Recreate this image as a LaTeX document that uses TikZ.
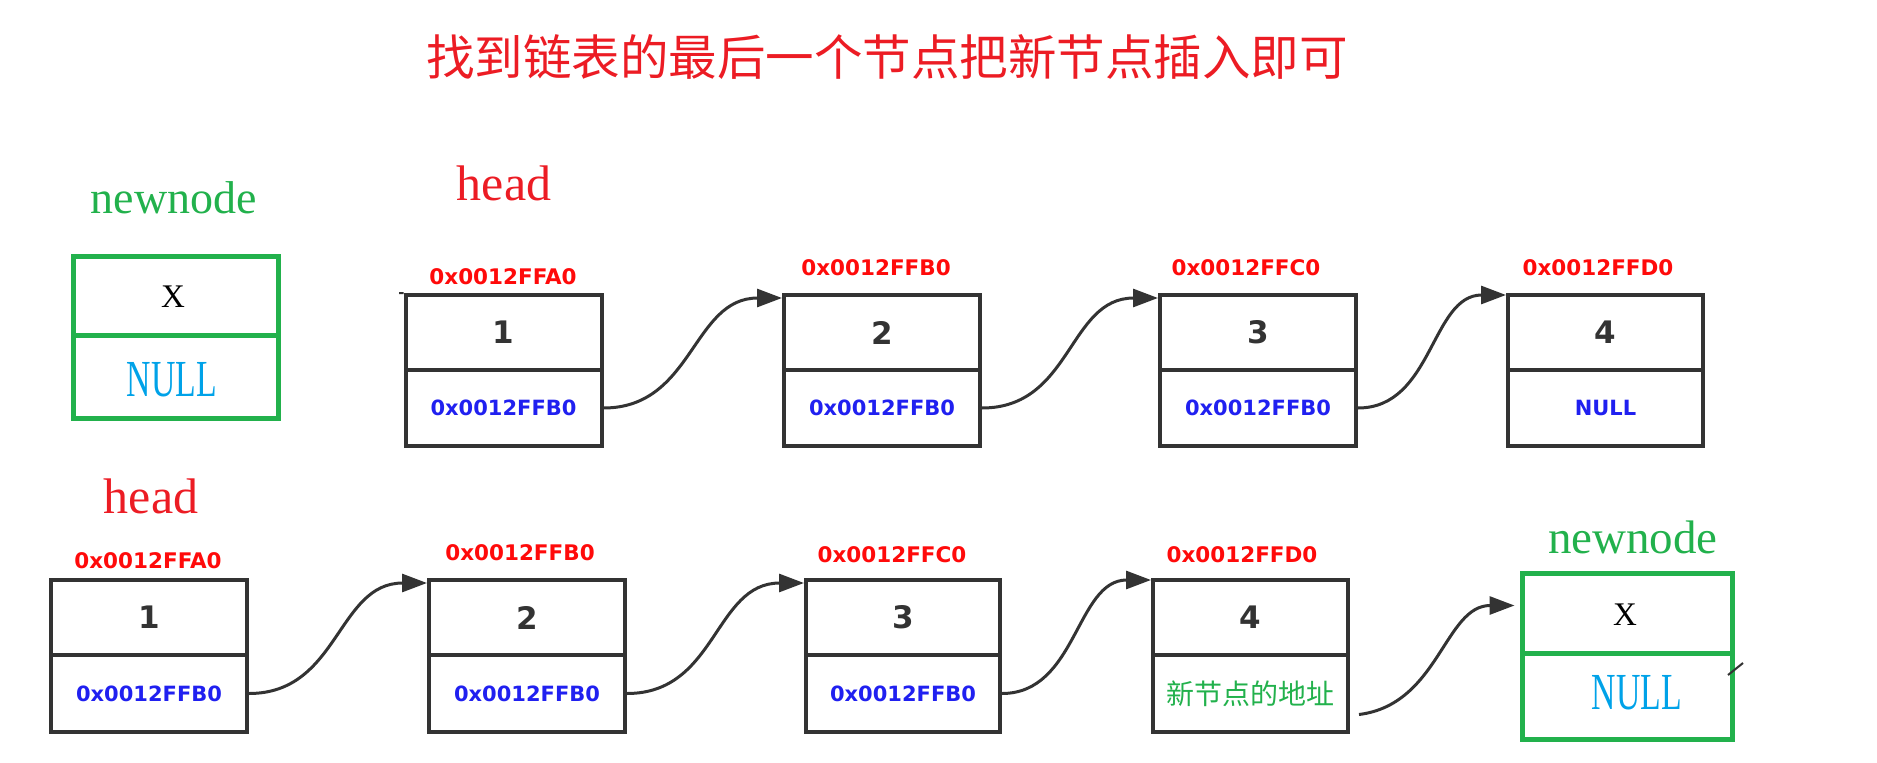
\documentclass[tikz,border=0pt]{standalone}
\usepackage{fontspec}
\setmainfont{Liberation Serif}
\newfontfamily\lblfont{DejaVu Sans}
\newfontfamily\cjk{Noto Sans CJK SC}
\usetikzlibrary{arrows.meta}
\definecolor{tred}{HTML}{EC1C24}
\definecolor{lred}{HTML}{FF0A0A}
\definecolor{lblue}{HTML}{2020F0}
\definecolor{boxgray}{HTML}{333333}
\definecolor{pgreen}{HTML}{22B14C}
\definecolor{ncyan}{HTML}{00A2E8}
\tikzset{
  cell/.style={draw=boxgray, line width=4bp, minimum width=196bp, inner sep=0pt, text=boxgray},
  topcell/.style={cell, minimum height=75bp, font=\lblfont\bfseries\fontsize{31bp}{36bp}\selectfont},
  botcell/.style={cell, minimum height=76bp, text=lblue, font=\lblfont\bfseries\fontsize{21bp}{25bp}\selectfont},
  gcell/.style={draw=pgreen, line width=5bp, inner sep=0pt},
  addr/.style={text=lred, inner sep=0pt, font=\lblfont\bfseries\fontsize{21.5bp}{25bp}\selectfont},
  link/.style={draw=boxgray, line width=3bp, -{Triangle[length=25bp,width=18bp]}},
  bigserif/.style={inner sep=0pt, anchor=base},
  xval/.style={inner sep=0pt, font=\fontsize{33bp}{38bp}\selectfont},
  nullval/.style={inner sep=0pt, text=ncyan, font=\fontsize{52bp}{58bp}\selectfont},
}
\begin{document}
\begin{tikzpicture}[x=1bp,y=-1bp]
\useasboundingbox (0,0) rectangle (1877,763);
% title
\node[inner sep=0pt, text=tred, font=\cjk\fontsize{48.5bp}{54bp}\selectfont] (title) at (887,57) {找到链表的最后一个节点把新节点插入即可};

% ---------- top row ----------
\node[bigserif, text=pgreen, font=\fontsize{46bp}{52bp}\selectfont] (nn1) at (174,213) {newnode};
\node[bigserif, text=tred, font=\fontsize{50bp}{56bp}\selectfont] (hd1) at (504,200) {head};

\node[gcell, minimum width=204bp, minimum height=79bp] (g1t) at (176,295.5) {};
\node[gcell, minimum width=204bp, minimum height=83bp] (g1b) at (176,376.5) {};
\node[xval] (g1x) at (173,297) {X};
\node[nullval] (g1n) at (172,380) {\scalebox{0.65}[1]{NULL}};

\node[topcell] (a1t) at (503.5,332.5) {1};
\node[botcell] (a1b) at (503.5,408) {0x0012FFB0};
\node[topcell] (a2t) at (882,332.5) {2};
\node[botcell] (a2b) at (882,408) {0x0012FFB0};
\node[topcell] (a3t) at (1258,332.5) {3};
\node[botcell] (a3b) at (1258,408) {0x0012FFB0};
\node[topcell, minimum width=195bp] (a4t) at (1605.5,332.5) {4};
\node[botcell, minimum width=195bp] (a4b) at (1605.5,408) {NULL};

\node[addr] (la1) at (503,277) {0x0012FFA0};
\node[addr] (la2) at (876,268) {0x0012FFB0};
\node[addr] (la3) at (1246,268) {0x0012FFC0};
\node[addr] (la4) at (1598,268) {0x0012FFD0};

\draw[link] (a1b.east) .. controls +(90,0) and +(-90,0) .. ([yshift=-5bp]a2t.north west);
\draw[link] (a2b.east) .. controls +(90,0) and +(-90,0) .. ([yshift=-5bp]a3t.north west);
\draw[link] (a3b.east) .. controls +(75,0) and +(-75,0) .. ([yshift=-2bp]a4t.north west);

\coordinate (tk1) at (399,293);
\draw[boxgray, line width=2bp] (tk1) -- (a1t.north west);

% ---------- bottom row ----------
\node[bigserif, text=tred, font=\fontsize{50bp}{56bp}\selectfont] (hd2) at (151,513) {head};
\node[bigserif, text=pgreen, font=\fontsize{47bp}{52bp}\selectfont] (nn2) at (1633,553) {newnode};

\node[topcell] (b1t) at (149,617.5) {1};
\node[botcell, minimum height=77bp] (b1b) at (149,693.5) {0x0012FFB0};
\node[topcell] (b2t) at (527,617.5) {2};
\node[botcell, minimum height=77bp] (b2b) at (527,693.5) {0x0012FFB0};
\node[topcell, minimum width=194bp] (b3t) at (903,617.5) {3};
\node[botcell, minimum height=77bp, minimum width=194bp] (b3b) at (903,693.5) {0x0012FFB0};
\node[topcell, minimum width=195bp] (b4t) at (1250.5,617.5) {4};
\node[botcell, minimum height=77bp, minimum width=195bp, text=pgreen, font=\cjk\fontsize{28bp}{32bp}\selectfont] (b4b) at (1250.5,693.5) {\raisebox{-3bp}{新节点的地址}};

\node[addr] (lb1) at (148,561) {0x0012FFA0};
\node[addr] (lb2) at (520,553) {0x0012FFB0};
\node[addr] (lb3) at (892,555) {0x0012FFC0};
\node[addr] (lb4) at (1242,555) {0x0012FFD0};

\node[gcell, minimum width=210bp, minimum height=80bp] (g2t) at (1627,613) {};
\node[gcell, minimum width=210bp, minimum height=86bp] (g2b) at (1627,696) {};
\node[xval] (g2x) at (1625,615) {X};
\node[nullval] (g2n) at (1637,693) {\scalebox{0.65}[1]{NULL}};

\draw[link] (b1b.east) .. controls +(90,0) and +(-90,0) .. ([yshift=-5bp]b2t.north west);
\draw[link] (b2b.east) .. controls +(90,0) and +(-90,0) .. ([yshift=-5bp]b3t.north west);
\draw[link] (b3b.east) .. controls +(75,0) and +(-75,0) .. ([yshift=-2bp]b4t.north west);
\draw[link] ([xshift=9bp,yshift=-21bp]b4b.east) .. controls +(80,-10) and +(-70,0) .. ([xshift=-5bp,yshift=-35bp]g2t.north west);

\coordinate (st1) at (1728,675);
\coordinate (st2) at (1743,663);
\draw[boxgray, line width=2bp] (st1) -- (st2);
\end{tikzpicture}
\end{document}
